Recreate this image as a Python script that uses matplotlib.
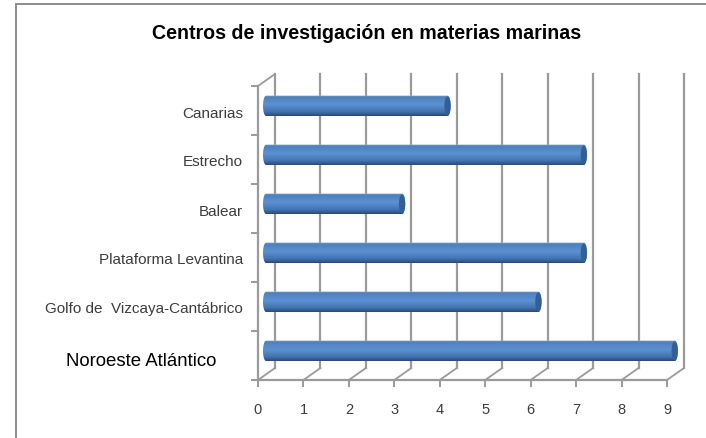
import numpy as np
import matplotlib
matplotlib.use('Agg')
import matplotlib.pyplot as plt
from matplotlib.path import Path
from matplotlib.patches import PathPatch, Ellipse
from matplotlib.colors import LinearSegmentedColormap

categories = ['Noroeste Atlántico', 'Golfo de  Vizcaya-Cantábrico', 'Plataforma Levantina',
              'Balear', 'Estrecho', 'Canarias']
values = [9, 6, 7, 3, 7, 4]
x_ticks = list(range(10))
title = 'Centros de investigación en materias marinas'

plt.rcParams['font.family'] = ['Liberation Sans', 'DejaVu Sans']

W, H = 706, 439
fig = plt.figure(figsize=(W / 100, H / 100), dpi=100)

# front plane of the fake 3d box, pixels from the top left
left, right, top, bottom = 258, 667, 87, 381
ax = fig.add_axes([left / W, 1 - bottom / H, (right - left) / W, (bottom - top) / H])
ax.set_xlim(0, 9)
ax.set_ylim(0, 6)
ax.patch.set_visible(False)

grey = '#9a9a9a'
dx = 17 / 45.44  # depth offset in data units
dy = 12 / 49.0

for s in ['top', 'right']:
    ax.spines[s].set_visible(False)
for s in ['left', 'bottom']:
    ax.spines[s].set_color(grey)
    ax.spines[s].set_linewidth(1.6)

ax.set_xticks(x_ticks)
ax.set_yticks(range(7))
ax.set_yticklabels([])
ax.tick_params(axis='x', length=5, width=1.4, color=grey, labelsize=10.5,
               labelcolor='#3c3c3c', pad=11)
ax.tick_params(axis='y', length=5, width=1.4, color=grey)

# back wall gridlines and the floor slants
for t in x_ticks:
    ax.plot([t + dx, t + dx], [dy, 6 + dy], color=grey, lw=1.6, clip_on=False, zorder=1)
    ax.plot([t, t + dx], [0, dy], color=grey, lw=1.3, clip_on=False, zorder=1)
ax.plot([0, dx], [6, 6 + dy], color=grey, lw=1.3, clip_on=False, zorder=1)

# bars: gradient image clipped to a rounded cylinder
cmap = LinearSegmentedColormap.from_list('bar', [
    (0.0, '#b4c4da'), (0.07, '#4f7fb8'), (0.45, '#5b92d4'),
    (0.8, '#4173ae'), (1.0, '#2a4a78')])
grad = np.linspace(0, 1, 64).reshape(-1, 1)
half = 0.21
shift_x0 = 0.11
shift_x1 = 0.24
shift_y = 0.095
cap = 0.07

for i, v in enumerate(values):
    yc = i + 0.5 + shift_y
    x0 = shift_x0
    x1 = v + shift_x1
    t = np.linspace(np.pi / 2, -np.pi / 2, 24)
    rx = x1 + cap * np.cos(t) - cap
    ry = yc + half * np.sin(t)
    t2 = np.linspace(-np.pi / 2, -3 * np.pi / 2, 24)
    lx = x0 + cap + cap * np.cos(t2)
    ly = yc + half * np.sin(t2)
    pts = np.column_stack([np.r_[rx, lx], np.r_[ry, ly]])
    pts = np.vstack([pts, pts[0]])
    clip = PathPatch(Path(pts), fc='none', ec='none', transform=ax.transData)
    ax.add_patch(clip)
    im = ax.imshow(grad, cmap=cmap, aspect='auto', zorder=3,
                   extent=[x0, x1, yc - half, yc + half], origin='upper',
                   interpolation='bilinear')
    im.set_clip_box(fig.bbox)
    im.set_clip_path(clip)
    ax.add_patch(Ellipse((x1 - cap, yc), 2 * cap, 2 * half * 0.92, fc='#345f96', ec='none',
                         zorder=4, clip_on=False))

ax.set_xlim(0, 9)
ax.set_ylim(0, 6)

# category labels
for i, c in enumerate(categories):
    if i == 0:
        ax.annotate(c, (0, i + 0.5), xytext=(-42, -5), textcoords='offset pixels',
                    ha='right', va='center', fontsize=13.4, color='black', annotation_clip=False)
    else:
        ax.annotate(c, (0, i + 0.5), xytext=(-15, -2), textcoords='offset pixels',
                    ha='right', va='center', fontsize=11, color='#3c3c3c', annotation_clip=False)

fig.text(367 / W, 1 - 33.5 / H, title, ha='center', va='center', fontsize=14.15,
         fontweight='bold', color='black')

# chart frame
fig.add_artist(plt.Line2D([16 / W, 16 / W], [0, 1 - 5 / H], color='#8c8c8c', lw=1.4))
fig.add_artist(plt.Line2D([16 / W, 1], [1 - 5 / H, 1 - 5 / H], color='#8c8c8c', lw=1.4))

fig.savefig('out.png', dpi=100)
